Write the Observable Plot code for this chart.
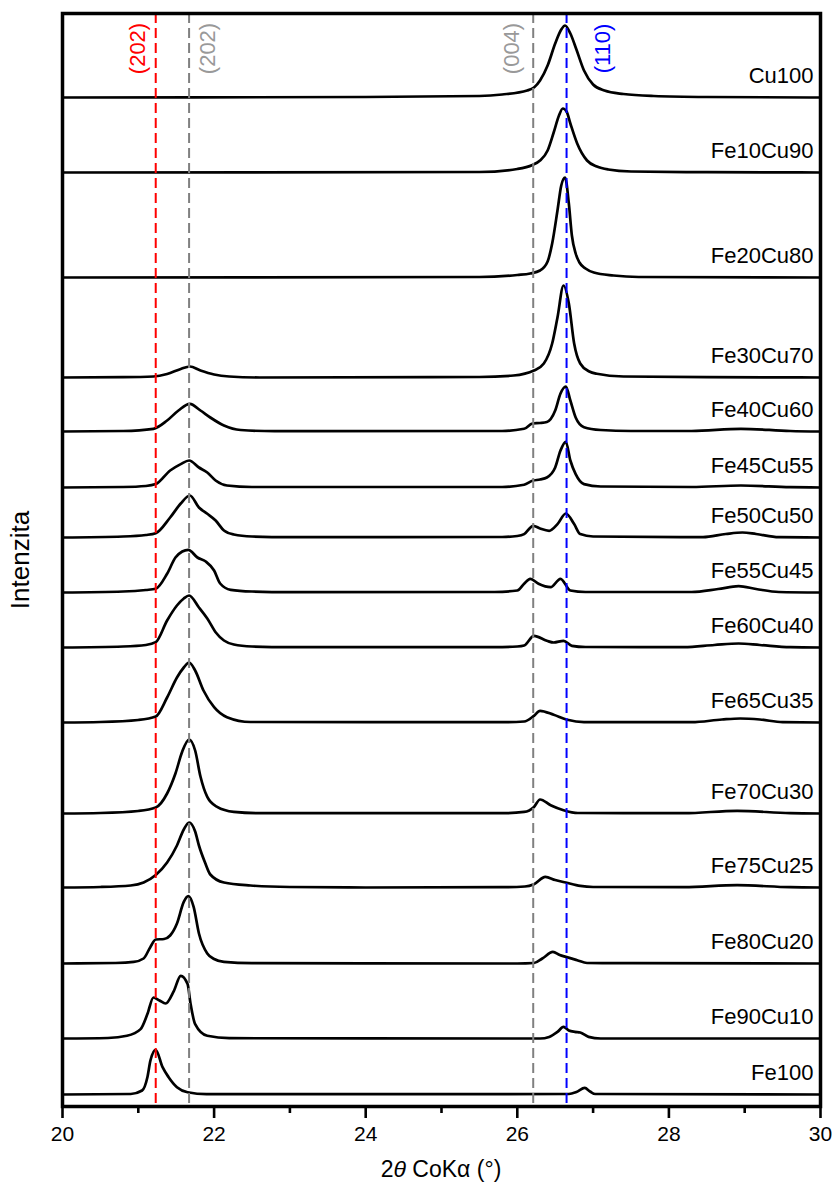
<!DOCTYPE html>
<html><head><meta charset="utf-8">
<script src="https://cdn.jsdelivr.net/npm/d3@7"></script>
<script src="https://cdn.jsdelivr.net/npm/@observablehq/plot@0.6"></script>
<style>body{margin:0;background:#fff} svg{display:block}</style>
</head><body><div id="chart"></div>
<script>
// sample names (top to bottom) and stacking offsets (intensity units)
const sampleNames = ["Cu100","Fe10Cu90","Fe20Cu80","Fe30Cu70","Fe40Cu60","Fe45Cu55","Fe50Cu50","Fe55Cu45","Fe60Cu40","Fe65Cu35","Fe70Cu30","Fe75Cu25","Fe80Cu20","Fe90Cu10","Fe100"];
const offsets = [1009, 934, 829, 729, 675, 619, 569, 514, 459, 384, 293, 219, 143, 68, 12];

// patterns: [2theta, intensity above baseline]
const cu100 = [[20,0],[24,0.5],[25.5,1.5],[25.8,3],[26.13,7],[26.22,10],[26.3,17],[26.4,32],[26.5,54],[26.58,68],[26.63,72],[26.7,64],[26.78,48],[26.88,27],[27.0,13],[27.15,7],[27.4,3.5],[27.8,1.5],[28.5,0.5],[30,0]];
const fe10cu90 = [[20,0],[25.5,0.5],[26.0,3.5],[26.2,7.5],[26.3,12],[26.4,22],[26.48,40],[26.55,57],[26.6,64],[26.65,61],[26.7,49],[26.79,29],[26.92,12],[27.05,6],[27.2,3],[27.5,1],[28.5,0.3],[30,0]];
const fe20cu80 = [[20,0],[25.5,0.5],[26.0,2.5],[26.17,4],[26.3,7],[26.4,16],[26.46,34],[26.53,67],[26.58,92],[26.63,100],[26.68,74],[26.72,42],[26.77,24],[26.82,15],[26.9,9],[27.01,5],[27.27,2],[27.6,0.5],[30,0]];
const fe30cu70 = [[20,0],[20.8,0.3],[21.2,1],[21.38,3.5],[21.56,8.5],[21.68,11],[21.82,7],[22.0,3],[22.2,1],[22.6,0],[25.5,0.5],[25.95,2],[26.22,7],[26.35,14],[26.46,34],[26.53,60],[26.61,92],[26.68,74],[26.75,34],[26.83,14],[26.95,6],[27.05,3.7],[27.4,1],[28.5,0.3],[30,0]];
const fe40cu60 = [[20,0],[20.8,0.5],[21.2,2.7],[21.38,11],[21.53,21],[21.68,27.7],[21.82,21],[21.95,14],[22.13,6],[22.35,1.5],[22.8,0.3],[25.8,0.5],[26.09,2.7],[26.2,8],[26.3,8.5],[26.39,9.5],[26.5,21],[26.57,38],[26.64,45],[26.7,31],[26.77,14],[26.88,4.3],[27.1,1.5],[27.5,0.5],[28.3,0.5],[28.95,2.7],[29.6,0.5],[30,0]];
const fe45cu55 = [[20,0],[20.8,0.5],[21.1,1.5],[21.23,3.4],[21.42,17],[21.56,23.4],[21.67,27],[21.8,20],[21.91,15],[22.02,7],[22.17,2],[22.5,0.5],[25.8,0.5],[26.09,2.7],[26.2,6.7],[26.3,8],[26.39,10],[26.5,20],[26.57,37],[26.64,45.7],[26.7,27],[26.77,13.4],[26.88,3.4],[27.1,1],[28.3,0.5],[28.95,2],[29.6,0.3],[30,0]];
const fe50cu50 = [[20,0],[20.8,1],[21.1,2.5],[21.23,4.3],[21.42,20],[21.56,34],[21.68,42],[21.8,30],[21.91,23.7],[22.02,17],[22.13,7],[22.26,3],[22.5,1],[23,0.3],[25.8,0.5],[26.0,1.5],[26.09,3.4],[26.21,11.7],[26.3,9],[26.42,6.7],[26.53,13.4],[26.64,24],[26.75,13.4],[26.83,3.4],[27.0,1],[28.45,0.3],[28.75,3.5],[28.97,5],[29.15,3.5],[29.45,0.3],[30,0]];
const fe55cu45 = [[20,0],[20.8,1],[21.1,2.5],[21.23,3.7],[21.38,18.7],[21.49,35],[21.58,41],[21.66,42.7],[21.78,35],[21.89,31],[22.0,22],[22.08,9],[22.22,2.7],[22.5,1],[23,0.3],[25.7,0.5],[26.0,2],[26.09,8.7],[26.17,13.7],[26.28,8.7],[26.44,5.3],[26.57,13.7],[26.7,2],[26.9,0.5],[28.3,0.5],[28.65,3.5],[28.92,6.3],[29.15,3.5],[29.45,0.5],[30,0]];
const fe60cu40 = [[20,0],[20.8,1],[21.1,2.5],[21.23,5.3],[21.38,27],[21.51,42],[21.6,49],[21.67,52],[21.8,40],[21.91,29],[22.02,15.3],[22.13,7],[22.26,3],[22.5,1],[23,0.3],[25.7,0.3],[26.0,1],[26.09,2],[26.22,11.7],[26.39,6.7],[26.48,5],[26.61,6.7],[26.72,1.7],[26.9,0.5],[28.2,0.3],[28.6,2.5],[28.92,4],[29.2,2.5],[29.6,0.3],[30,0]];
const fe65cu35 = [[20,0],[20.5,0.5],[21.0,2.5],[21.23,6],[21.38,25],[21.51,45],[21.6,55],[21.67,60],[21.75,52],[21.86,32],[22.0,15.3],[22.17,5.3],[22.48,0.5],[25.8,0.3],[26.09,1],[26.22,6.7],[26.3,11.7],[26.48,7.7],[26.66,2.7],[26.88,0.3],[28.3,0.3],[28.7,3],[28.94,4],[29.2,3],[29.5,0.3],[30,0]];
const fe70cu30 = [[20,0],[20.5,0.5],[21.0,2.5],[21.23,6],[21.38,20],[21.49,40],[21.58,62],[21.67,74],[21.75,63],[21.82,37],[21.91,16.6],[22.04,6.6],[22.26,1.6],[22.6,0.3],[25.8,0.3],[26.09,1.6],[26.22,6.6],[26.3,14],[26.44,8.3],[26.61,3.3],[26.8,0.5],[28.2,0.3],[28.9,2.7],[29.6,0.3],[30,0]];
const fe75cu25 = [[20,0],[20.5,0.5],[20.9,2],[21.07,5],[21.23,12.5],[21.38,25],[21.51,42],[21.6,58],[21.67,65],[21.75,56],[21.8,42],[21.88,25],[21.95,13],[22.13,5],[22.48,2],[23,0.5],[24,0],[25.8,0.3],[26.1,1],[26.22,3.3],[26.37,10.6],[26.5,7.5],[26.64,5],[26.83,1.6],[27.0,0.5],[28.2,0.3],[28.9,2.3],[29.6,0.3],[30,0]];
const fe80cu20 = [[20,0],[20.7,0.5],[20.94,1.6],[21.07,5],[21.16,16.6],[21.23,24],[21.34,24.5],[21.42,28],[21.51,40],[21.6,61.6],[21.66,67.3],[21.73,56.6],[21.8,30],[21.91,10],[22.0,4.5],[22.13,1.6],[22.5,0.3],[26.0,0],[26.22,0.5],[26.33,5],[26.47,11.6],[26.56,8.5],[26.64,6.6],[26.79,3.3],[26.92,0.5],[30,0]];
const fe90cu10 = [[20,0],[20.6,0.5],[20.85,2.7],[21.03,9.4],[21.12,24.4],[21.2,41],[21.28,38],[21.36,35],[21.47,47.7],[21.56,62.7],[21.65,54.4],[21.69,34.4],[21.75,14.4],[21.91,2.7],[22.2,0.3],[26.3,0],[26.42,1.6],[26.53,6.6],[26.61,11.6],[26.68,8],[26.76,6.6],[26.83,6],[26.94,1.6],[27.1,0],[30,0]];
const fe100 = [[20,0],[20.9,0.5],[21.05,4],[21.12,17.3],[21.16,34],[21.23,44.7],[21.32,27.3],[21.4,17.3],[21.51,7.3],[21.65,2.3],[21.9,0.3],[26.68,0.5],[26.78,2.5],[26.89,6.6],[26.96,3],[27.03,0.5],[30,0]];

// reference reflections
const refPositions = [21.23, 21.67, 26.21, 26.65];
const refLabels = ["(202)", "(202)", "(004)", "(110)"];

// x ticks
const majorTicks = [20, 22, 24, 26, 28, 30];
const minorTicks = [21, 23, 25, 27, 29];

const patterns = [cu100, fe10cu90, fe20cu80, fe30cu70, fe40cu60, fe45cu55, fe50cu50, fe55cu45, fe60cu40, fe65cu35, fe70cu30, fe75cu25, fe80cu20, fe90cu10, fe100];
const rows = patterns.flatMap((pts, i) => pts.map(([t, v]) => ({name: sampleNames[i], theta: t, y: offsets[i] + v})));
const labelRows = sampleNames.map((n, i) => ({name: n, y: offsets[i]}));

const font = "'Liberation Sans', Arial, sans-serif";
const refColors = ["#ff0000", "#808080", "#808080", "#0000ff"];
const refTextColors = ["#ff0000", "#999999", "#999999", "#0000ff"];
const refDx = [-18, 19, -21, 36];

const refMarks = refPositions.flatMap((p, i) => [
  Plot.ruleX([p], {stroke: refColors[i], strokeWidth: 2, strokeDasharray: "10,5"}),
  Plot.text([refLabels[i]], {x: p, frameAnchor: "top", text: d => d, rotate: -90, textAnchor: "middle", lineAnchor: "middle", dy: 35, dx: refDx[i], fill: refTextColors[i], fontSize: 22})
]);

const chart = Plot.plot({
  width: 835, height: 1184,
  marginLeft: 62, marginRight: 15, marginTop: 13, marginBottom: 78,
  style: {fontFamily: font, background: "white", color: "black"},
  x: {domain: [20, 30]},
  y: {domain: [0, 1093], axis: null},
  marks: [
    Plot.line(rows, {x: "theta", y: "y", z: "name", curve: "monotone-x", stroke: "black", strokeWidth: 2.7, clip: true}),
    ...refMarks,
    Plot.text(labelRows, {x: 30, y: "y", text: "name", textAnchor: "end", lineAnchor: "middle", dx: -7, dy: -22, fontSize: 22, fill: "black"}),
    Plot.axisX(majorTicks, {tickSize: 12, tickPadding: 8, strokeWidth: 2.6, fontSize: 21, label: null}),
    Plot.axisX(minorTicks, {tickSize: 7, strokeWidth: 2.6, tickFormat: () => "", label: null}),
    Plot.text(["Intenzita"], {frameAnchor: "left", text: d => d, rotate: -90, textAnchor: "middle", lineAnchor: "middle", dx: -42, fontSize: 26, fill: "black"}),
    Plot.frame({strokeWidth: 3.5, stroke: "black"})
  ]
});
document.getElementById("chart").appendChild(chart);

// x axis title with italic theta
const svg = d3.select(chart);
const t = svg.append("text").attr("x", 441).attr("y", 1177).attr("text-anchor", "middle")
  .attr("font-family", font).attr("font-size", 23).attr("fill", "black");
t.append("tspan").text("2");
t.append("tspan").attr("font-style", "italic").text("\u03B8");
t.append("tspan").text(" CoK\u03B1 (\u00B0)");
</script>
</body></html>
